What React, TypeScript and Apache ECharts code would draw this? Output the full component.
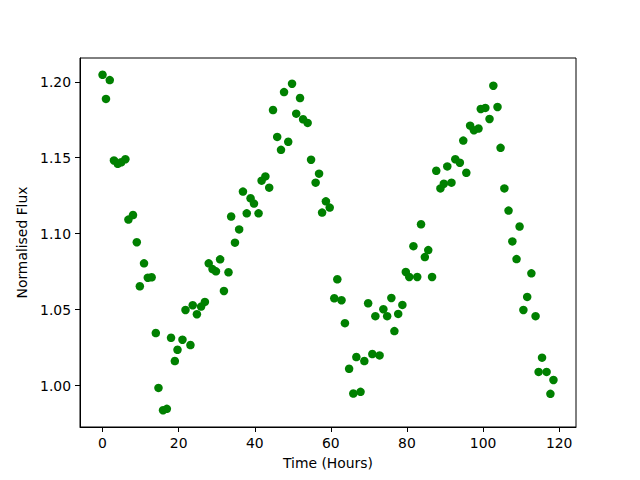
import React, { useEffect, useRef } from "react";
import * as echarts from "echarts";

const timeHours = [
  0.0, 0.9, 1.9, 3.0, 4.0, 4.9, 6.0, 6.8, 8.0, 9.0,
  9.8, 10.9, 11.9, 12.9, 14.0, 14.7, 15.9, 16.9, 18.0, 19.0,
  19.7, 21.0, 21.8, 23.1, 23.7, 24.8, 25.9, 26.9, 27.9, 28.9,
  29.8, 30.9, 31.9, 33.1, 33.8, 34.8, 35.9, 36.9, 37.9, 38.9,
  39.8, 41.0, 41.8, 42.8, 43.8, 44.8, 45.9, 46.9, 47.7, 48.8,
  49.8, 50.9, 51.9, 52.7, 53.9, 54.8, 56.0, 56.9, 57.7, 58.7,
  59.7, 60.9, 61.7, 62.8, 63.7, 64.8, 65.9, 66.7, 67.8, 68.8,
  69.8, 70.9, 71.7, 72.8, 73.8, 74.8, 75.9, 76.7, 77.7, 78.8,
  79.7, 80.6, 81.7, 82.7, 83.7, 84.7, 85.6, 86.6, 87.7, 88.8,
  89.7, 90.6, 91.7, 92.7, 93.9, 94.8, 95.6, 96.6, 97.6, 98.8,
  99.4, 100.6, 101.7, 102.7, 103.8, 104.6, 105.6, 106.7, 107.7, 108.8,
  109.6, 110.6, 111.6, 112.7, 113.8, 114.6, 115.5, 116.7, 117.7, 118.5,
];

const normalisedFlux = [
  1.2046, 1.1887, 1.2011, 1.1482, 1.146, 1.147, 1.149, 1.1093, 1.1123, 1.0944,
  1.0654, 1.0805, 1.071, 1.0713, 1.0346, 0.9985, 0.9838, 0.9847, 1.0315, 1.0162,
  1.0236, 1.0302, 1.0498, 1.0267, 1.0529, 1.047, 1.052, 1.0551, 1.0805, 1.0767,
  1.0752, 1.0831, 1.0623, 1.0746, 1.1113, 1.0941, 1.1028, 1.1277, 1.1134, 1.1233,
  1.1198, 1.1134, 1.1349, 1.1377, 1.1303, 1.1814, 1.1637, 1.1552, 1.1932, 1.1605,
  1.1987, 1.179, 1.1893, 1.1753, 1.1729, 1.1487, 1.1336, 1.1395, 1.1139, 1.1213,
  1.1172, 1.0575, 1.07, 1.0562, 1.0411, 1.0111, 0.9948, 1.0188, 0.9959, 1.0162,
  1.0542, 1.0208, 1.0457, 1.0199, 1.0503, 1.0457, 1.0577, 1.0359, 1.0472, 1.0531,
  1.0748, 1.0715, 1.0918, 1.0715, 1.1062, 1.0846, 1.0892, 1.0715, 1.1414, 1.1298,
  1.1329, 1.1443, 1.1336, 1.149, 1.1467, 1.1613, 1.1401, 1.1711, 1.1681, 1.1692,
  1.1821, 1.1828, 1.1755, 1.1974, 1.1834, 1.1565, 1.1298, 1.1152, 1.0949, 1.0833,
  1.1047, 1.0498, 1.0584, 1.0739, 1.0457, 1.009, 1.0184, 1.009, 0.9946, 1.0037,
];

const xTicks = [0, 20, 40, 60, 80, 100, 120];
const yTicks = [1.0, 1.05, 1.1, 1.15, 1.2];

export default function App() {
  const ref = useRef<HTMLDivElement>(null);
  useEffect(() => {
    if (!ref.current) return;
    const chart = echarts.init(ref.current, null, { renderer: "svg" });
    const font = "DejaVu Sans";
    const xMin = Math.min(...timeHours);
    const xMax = Math.max(...timeHours);
    const yMin = Math.min(...normalisedFlux);
    const yMax = Math.max(...normalisedFlux);
    const xm = (xMax - xMin) * 0.05;
    const ym = (yMax - yMin) * 0.05;
    chart.setOption({
      animation: false,
      backgroundColor: "#fff",
      grid: {
        left: 80,
        right: 64,
        top: 58,
        bottom: 53,
        show: true,
        borderColor: "#000",
        borderWidth: 1,
        backgroundColor: "transparent",
      },
      xAxis: {
        type: "value",
        min: xMin - xm,
        max: xMax + xm,
        name: "Time (Hours)",
        nameLocation: "middle",
        nameGap: 29,
        nameTextStyle: { color: "#000", fontFamily: font, fontSize: 13.9 },
        splitLine: { show: false },
        axisLine: { show: true, onZero: false, lineStyle: { color: "#000", width: 1 } },
        axisTick: { show: true, length: 5, lineStyle: { color: "#000" }, customValues: xTicks },
        axisLabel: {
          color: "#000",
          fontFamily: font,
          fontSize: 13.9,
          margin: 9,
          customValues: xTicks,
          formatter: (v: number) => String(Math.round(v)),
        },
      },
      yAxis: {
        type: "value",
        min: yMin - ym,
        max: yMax + ym,
        name: "Normalised Flux",
        nameLocation: "middle",
        nameGap: 41,
        nameTextStyle: { color: "#000", fontFamily: font, fontSize: 13.9 },
        splitLine: { show: false },
        axisLine: { show: true, onZero: false, lineStyle: { color: "#000", width: 1 } },
        axisTick: { show: true, length: 5, lineStyle: { color: "#000" }, customValues: yTicks },
        axisLabel: {
          color: "#000",
          fontFamily: font,
          fontSize: 13.9,
          margin: 9,
          customValues: yTicks,
          formatter: (v: number) => v.toFixed(2),
        },
      },
      series: [
        {
          type: "scatter",
          symbol: "circle",
          symbolSize: 8.5,
          itemStyle: { color: "#008000", opacity: 1 },
          data: timeHours.map((t, i) => [t, normalisedFlux[i]]),
        },
      ],
    });
    return () => chart.dispose();
  }, []);
  return (
    <div
      ref={ref}
      style={{ position: "fixed", left: 0, top: 0, width: 640, height: 480 }}
    />
  );
}
